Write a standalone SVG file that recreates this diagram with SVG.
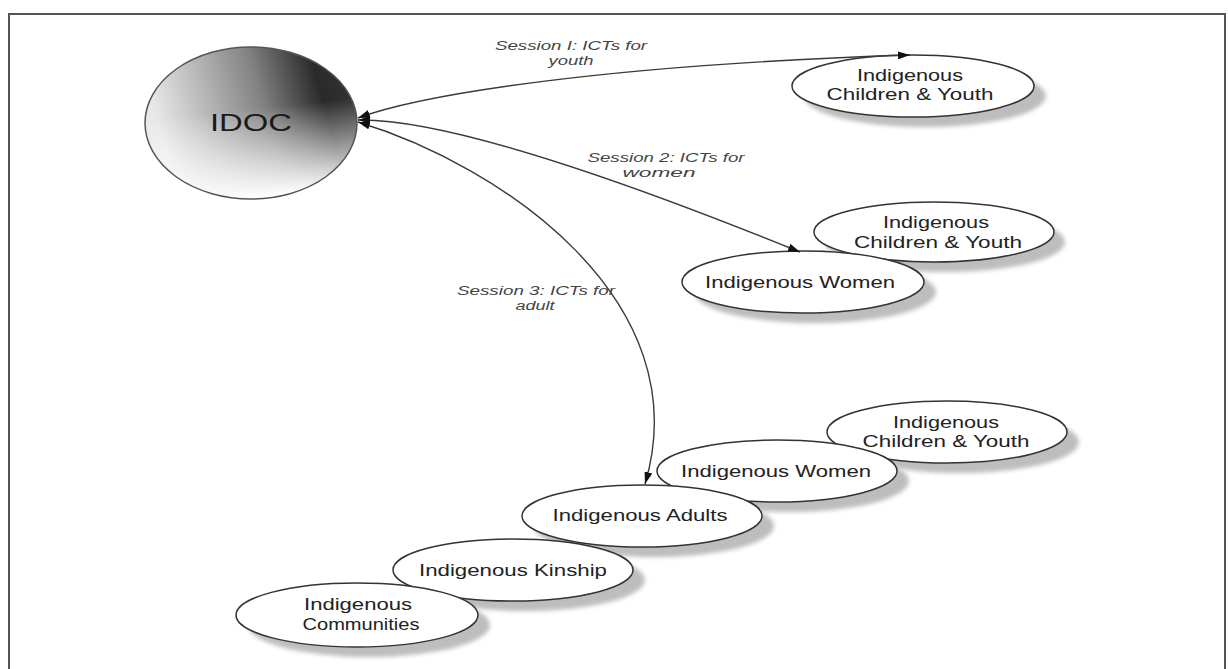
<svg xmlns="http://www.w3.org/2000/svg" width="1228" height="669" viewBox="0 0 1228 669">
  <style>
    .node { fill: #ffffff; stroke: #333333; stroke-width: 1.5; }
    .shadow { fill: #bdbdbd; filter: url(#soft); }
    .lbl { font-family: "Liberation Sans", Arial, sans-serif; font-size: 17px; fill: #222222; text-anchor: middle; }
    .edge-lbl { font-family: "Liberation Sans", Arial, sans-serif; font-size: 12px; font-style: italic; fill: #444444; text-anchor: middle; }
    .edge { fill: none; stroke: #3a3a3a; stroke-width: 1.4; marker-start: url(#arrow); marker-end: url(#arrow); }
  </style>
  <defs>
    <filter id="soft" x="-10%" y="-30%" width="120%" height="160%">
      <feGaussianBlur stdDeviation="2"/>
    </filter>
    <!-- hub shading: light left, dark upper right, fading to white at the bottom -->
    <linearGradient id="idocBase" x1="0" y1="0.2" x2="1" y2="0">
      <stop offset="0" stop-color="#e8e8e8"/>
      <stop offset="0.2" stop-color="#c0c0c0"/>
      <stop offset="0.5" stop-color="#828282"/>
      <stop offset="0.78" stop-color="#2a2a2a"/>
      <stop offset="1" stop-color="#363636"/>
    </linearGradient>
    <linearGradient id="idocLight" x1="0.35" y1="0" x2="0.5" y2="1">
      <stop offset="0.42" stop-color="#ffffff" stop-opacity="0"/>
      <stop offset="1" stop-color="#ffffff" stop-opacity="1"/>
    </linearGradient>
    <marker id="arrow" viewBox="0 0 12 8" refX="12" refY="4" markerWidth="12" markerHeight="8" markerUnits="userSpaceOnUse" orient="auto-start-reverse">
      <path d="M0,0 L12,4 L0,8 Z" fill="#111111"/>
    </marker>
  </defs>

  <!-- frame -->
  <rect x="9" y="14" width="1216" height="700" fill="none" stroke="#555555" stroke-width="2"/>

  <!-- hub -->
  <g id="idoc">
    <ellipse cx="251" cy="123" rx="106" ry="76" fill="url(#idocBase)"/>
    <ellipse cx="251" cy="123" rx="106" ry="76" fill="url(#idocLight)" stroke="#555555" stroke-width="1.5"/>
    <text x="251" y="131" font-family="Liberation Sans, Arial, sans-serif" font-size="24" fill="#1a1a1a" text-anchor="middle" textLength="82" lengthAdjust="spacingAndGlyphs">IDOC</text>
  </g>

  <!-- session 1 target -->
  <g id="youth-1">
    <ellipse class="shadow" cx="925" cy="96" rx="121" ry="31"/>
    <ellipse class="node" cx="913" cy="86" rx="121" ry="31"/>
    <text class="lbl" x="910" y="81" textLength="106" lengthAdjust="spacingAndGlyphs">Indigenous</text>
    <text class="lbl" x="910" y="100" textLength="167" lengthAdjust="spacingAndGlyphs">Children &amp; Youth</text>
  </g>

  <!-- session 2 targets -->
  <g id="youth-2">
    <ellipse class="shadow" cx="945" cy="242" rx="120" ry="30"/>
    <ellipse class="node" cx="934" cy="232" rx="120" ry="30"/>
    <text class="lbl" x="936" y="228" textLength="106" lengthAdjust="spacingAndGlyphs">Indigenous</text>
    <text class="lbl" x="938" y="248" textLength="168" lengthAdjust="spacingAndGlyphs">Children &amp; Youth</text>
  </g>
  <g id="women-2">
    <ellipse class="shadow" cx="815" cy="292" rx="121" ry="31"/>
    <ellipse class="node" cx="803" cy="282" rx="121" ry="31"/>
    <text class="lbl" x="800" y="288" textLength="190" lengthAdjust="spacingAndGlyphs">Indigenous Women</text>
  </g>

  <!-- session 3 targets -->
  <g id="youth-3">
    <ellipse class="shadow" cx="959" cy="442" rx="120" ry="31"/>
    <ellipse class="node" cx="947" cy="432" rx="120" ry="31"/>
    <text class="lbl" x="946" y="428" textLength="106" lengthAdjust="spacingAndGlyphs">Indigenous</text>
    <text class="lbl" x="946" y="447" textLength="167" lengthAdjust="spacingAndGlyphs">Children &amp; Youth</text>
  </g>
  <g id="women-3">
    <ellipse class="shadow" cx="789" cy="481" rx="120" ry="31"/>
    <ellipse class="node" cx="777" cy="471" rx="120" ry="31"/>
    <text class="lbl" x="776" y="477" textLength="190" lengthAdjust="spacingAndGlyphs">Indigenous Women</text>
  </g>
  <g id="adults">
    <ellipse class="shadow" cx="654" cy="526" rx="120" ry="31"/>
    <ellipse class="node" cx="642" cy="516" rx="120" ry="31"/>
    <text class="lbl" x="640" y="521" textLength="175" lengthAdjust="spacingAndGlyphs">Indigenous Adults</text>
  </g>
  <g id="kinship">
    <ellipse class="shadow" cx="525" cy="580" rx="120" ry="31"/>
    <ellipse class="node" cx="513" cy="570" rx="120" ry="31"/>
    <text class="lbl" x="513" y="576" textLength="188" lengthAdjust="spacingAndGlyphs">Indigenous Kinship</text>
  </g>
  <g id="communities">
    <ellipse class="shadow" cx="369" cy="625" rx="121" ry="32"/>
    <ellipse class="node" cx="357" cy="615" rx="121" ry="32"/>
    <text class="lbl" x="358" y="610" textLength="108" lengthAdjust="spacingAndGlyphs">Indigenous</text>
    <text class="lbl" x="361" y="630" textLength="117" lengthAdjust="spacingAndGlyphs">Communities</text>
  </g>

  <!-- connectors -->
  <g id="connectors">
    <path class="edge" d="M358,118 C420,95 600,65 910,55"/>
    <path class="edge" d="M358,120 Q470,118 800,252"/>
    <path class="edge" d="M358,122 C500,165 700,300 645,484"/>
    <text class="edge-lbl" x="571" y="50" textLength="152" lengthAdjust="spacingAndGlyphs">Session I: ICTs for</text>
    <text class="edge-lbl" x="571" y="65" textLength="45" lengthAdjust="spacingAndGlyphs">youth</text>
    <text class="edge-lbl" x="666" y="162" textLength="157" lengthAdjust="spacingAndGlyphs">Session 2: ICTs for</text>
    <text class="edge-lbl" x="659" y="177" textLength="73" lengthAdjust="spacingAndGlyphs">women</text>
    <text class="edge-lbl" x="536" y="295" textLength="158" lengthAdjust="spacingAndGlyphs">Session 3: ICTs for</text>
    <text class="edge-lbl" x="535" y="310" textLength="39" lengthAdjust="spacingAndGlyphs">adult</text>
  </g>
</svg>
